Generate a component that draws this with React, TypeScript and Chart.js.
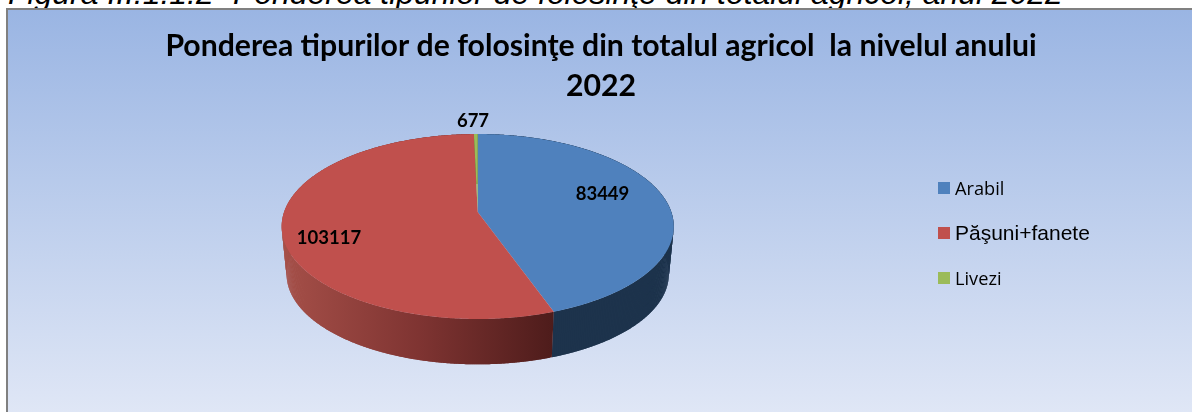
import React, { useEffect, useRef } from "react";
import { Chart, registerables } from "chart.js";

Chart.register(...registerables);

const categories = ["Arabil", "Păşuni+fanete", "Livezi"];
const values = [83449, 103117, 677];
const colors = ["#4f81bd", "#c0504d", "#9bbb59"];
const titleLines = ["Ponderea tipurilor de folosinţe din totalul agricol  la nivelul anului", "2022"];
const caption = "Figura III.1.1.2 -Ponderea tipurilor de folosinţe din totalul agricol, anul 2022";

// layout, in page pixels
const ORIGIN = { x: 8, y: 10 };
const PIE = { cx: 477.7, cy: 212, rx: 193.6, ry: 90.2, k: 0.157 };
const BASE = { cy: 260, scale: 0.975 };
const LABEL_POS = [
  { x: 602.5, y: 194.5 },
  { x: 329, y: 238 },
  { x: 473, y: 121 },
];
const LEGEND_ROWS = [
  { y: 182, baseline: 195, font: "18.2px 'Open Sans'" },
  { y: 227, baseline: 240, font: "21px 'Liberation Sans'" },
  { y: 272, baseline: 285, font: "18.2px 'Open Sans'" },
];

function project(a: number, base: boolean) {
  const u = Math.cos(a);
  const v = Math.sin(a);
  const d = 1 - PIE.k * v;
  const s = base ? BASE.scale : 1;
  return {
    x: PIE.cx + (s * PIE.rx * u) / d,
    y: (base ? BASE.cy : PIE.cy) + (s * PIE.ry * v) / d,
  };
}

function rim(ctx: CanvasRenderingContext2D, a0: number, a1: number, base: boolean) {
  const n = Math.max(2, Math.ceil(Math.abs(a1 - a0) / 0.01));
  for (let i = 0; i <= n; i++) {
    const p = project(a0 + ((a1 - a0) * i) / n, base);
    ctx.lineTo(p.x, p.y);
  }
}

const tiltedPie = {
  id: "tiltedPie",
  beforeDatasetsDraw(chart: any) {
    const ctx: CanvasRenderingContext2D = chart.ctx;
    const arcs = chart.getDatasetMeta(0).data;
    ctx.save();
    ctx.translate(-ORIGIN.x, -ORIGIN.y);
    // the side wall of the disc, swept in small overlapping strips
    const redSide = ctx.createLinearGradient(284, 0, 553, 0);
    redSide.addColorStop(0, "#a54f48");
    redSide.addColorStop(0.5, "#7f3432");
    redSide.addColorStop(1, "#4e1c1b");
    const sides: (string | CanvasGradient)[] = ["#1d334c", redSide, "#55682f"];
    arcs.forEach((arc: any, i: number) => {
      ctx.fillStyle = sides[i];
      const step = 0.01;
      for (let a = arc.startAngle; a < arc.endAngle; a += step) {
        const b = Math.min(arc.endAngle, a + step * 2);
        ctx.beginPath();
        rim(ctx, a, b, false);
        rim(ctx, b, a, true);
        ctx.closePath();
        ctx.fill();
      }
    });
    ctx.restore();
    arcs.forEach((arc: any) => {
      arc.draw = (c: CanvasRenderingContext2D) => {
        c.save();
        c.translate(-ORIGIN.x, -ORIGIN.y);
        c.beginPath();
        c.moveTo(PIE.cx, PIE.cy);
        rim(c, arc.startAngle, arc.endAngle, false);
        c.closePath();
        c.fillStyle = arc.options.backgroundColor;
        c.fill();
        c.restore();
      };
    });
  },
  afterDraw(chart: any) {
    const ctx: CanvasRenderingContext2D = chart.ctx;
    ctx.save();
    ctx.translate(-ORIGIN.x, -ORIGIN.y);
    ctx.fillStyle = "#000";
    ctx.textAlign = "center";
    ctx.textBaseline = "middle";
    ctx.font = "bold 18.5px Lato";
    values.forEach((v, i) => ctx.fillText(String(v), LABEL_POS[i].x, LABEL_POS[i].y));
    ctx.textAlign = "left";
    ctx.textBaseline = "alphabetic";
    categories.forEach((name, i) => {
      const row = LEGEND_ROWS[i];
      ctx.fillStyle = colors[i];
      ctx.fillRect(938, row.y, 12, 12);
      ctx.fillStyle = "#000";
      ctx.font = row.font;
      ctx.fillText(name, 955, row.baseline);
    });
    ctx.restore();
  },
};

export default function App() {
  const ref = useRef<HTMLCanvasElement>(null);
  useEffect(() => {
    document.body.style.margin = "0";
    document.body.style.background = "#fff";
    const chart = new Chart(ref.current!, {
      type: "pie",
      data: {
        labels: categories,
        datasets: [{ data: values, backgroundColor: colors, borderWidth: 0, clip: false } as any],
      },
      options: {
        responsive: false,
        animation: false,
        plugins: {
          legend: { display: false },
          tooltip: { enabled: false },
          title: {
            display: true,
            text: titleLines,
            color: "#000",
            font: { family: "Lato", weight: "bold", size: 30.2, lineHeight: 1.33 },
            padding: { top: 16, bottom: 0 },
          },
        },
      },
      plugins: [tiltedPie],
    });
    return () => chart.destroy();
  }, []);
  return (
    <div style={{ position: "relative", width: 1192, height: 412, overflow: "hidden", background: "#fff" }}>
      <div
        style={{
          position: "absolute",
          left: 8,
          top: -22,
          whiteSpace: "nowrap",
          font: "italic 31.9px 'Liberation Sans'",
          lineHeight: "30px",
          color: "#000",
        }}
      >
        {caption}
      </div>
      <div
        style={{
          position: "absolute",
          left: 6,
          top: 8,
          width: 1190,
          height: 408,
          boxSizing: "border-box",
          borderLeft: "2px solid #808080",
          borderTop: "2px solid #808080",
          background: "linear-gradient(180deg, #9ab5e3 0%, #e0e7f6 100%)",
        }}
      >
        <canvas ref={ref} width={1186} height={402} style={{ display: "block", width: 1186, height: 402 }} />
      </div>
    </div>
  );
}
